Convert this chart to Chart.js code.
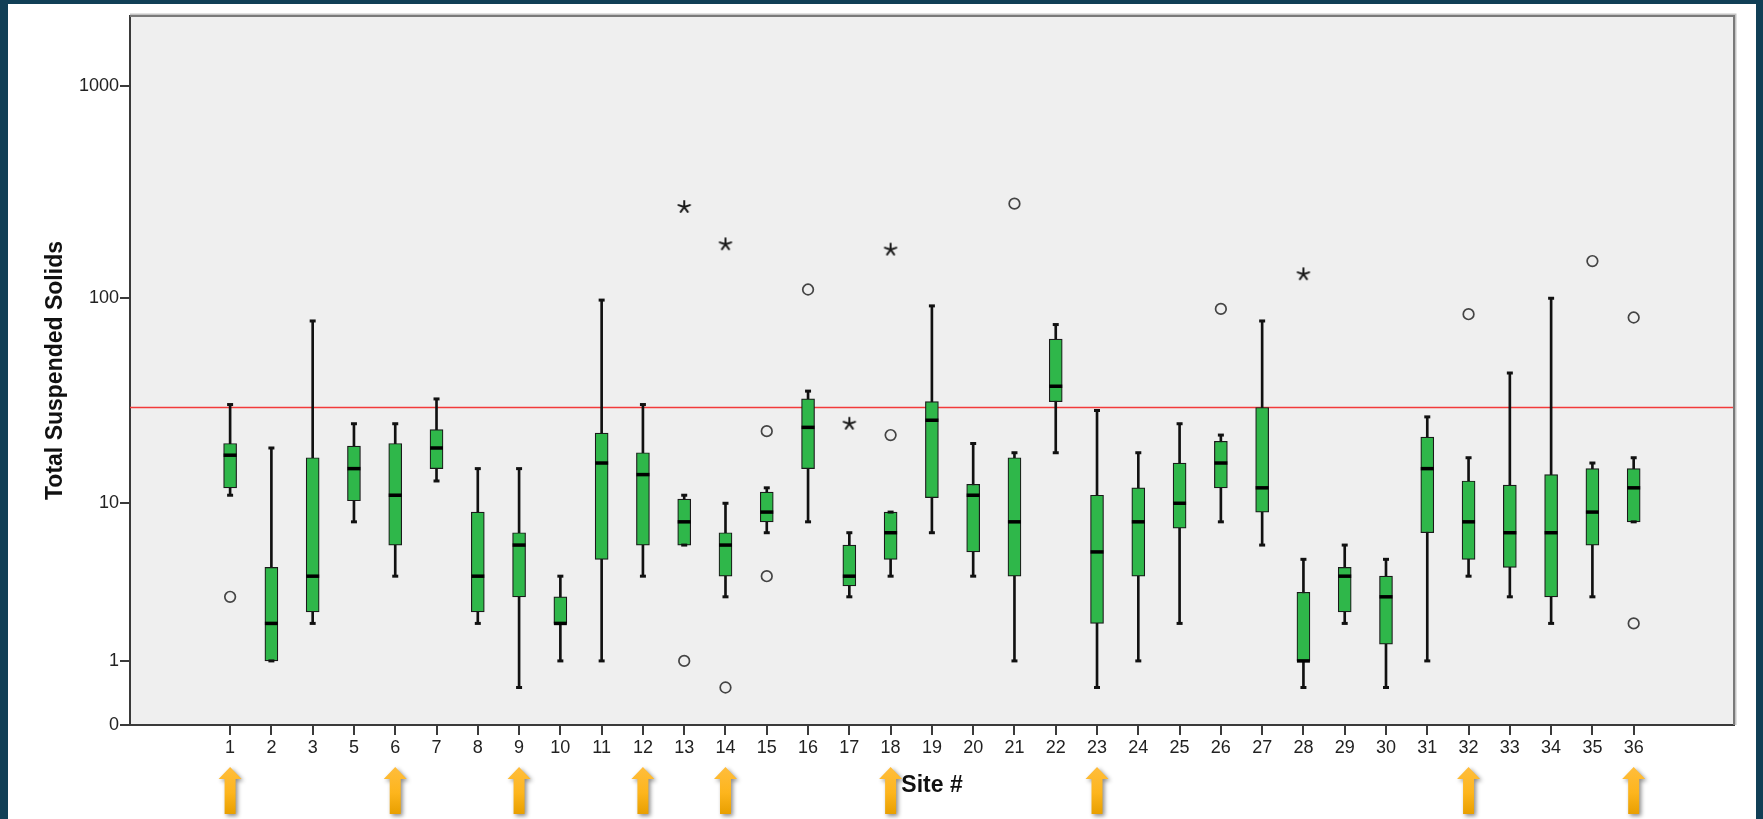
<!DOCTYPE html>
<html>
<head>
<meta charset="utf-8">
<script src="https://cdn.jsdelivr.net/npm/chart.js@4.4.1/dist/chart.umd.min.js"></script>
<style>
  html, body { margin: 0; padding: 0; background: #113f56; overflow: hidden; }
  #wrap { position: absolute; left: 0; top: 0; width: 1763px; height: 819px; }
</style>
</head>
<body>
<div id="wrap"><canvas id="chart" width="1763" height="819"></canvas></div>
<script>
// Sampling sites (site 4 has no record)
const sites = ['1','2','3','5','6','7','8','9','10','11','12','13','14','15','16','17','18',
               '19','20','21','22','23','24','25','26','27','28','29','30','31','32','33','34','35','36'];

// Five-number summary per site (Total Suspended Solids)
const whiskerLow  = [11, 1, 2, 8, 4, 13, 2, 0.5, 1, 1, 4, 6, 3, 7, 8, 3, 4,
                     7, 4, 1, 18, 0.5, 1, 2, 8, 6, 0.5, 2, 0.5, 1, 4, 3, 2, 3, 8];
const quartile1   = [12, 1, 2.4, 10.3, 6, 15, 2.4, 3, 2, 5, 6, 6, 4, 8, 15, 3.5, 5,
                     10.7, 5.5, 4, 32, 2, 4, 7.4, 12, 9, 1, 2.4, 1.4, 7, 5, 4.5, 3, 6, 8];
const medianVals  = [17.5, 2, 4, 15, 11, 19, 4, 6, 2, 16, 14, 8, 6, 9, 24, 4, 7,
                     26, 11, 8, 38, 5.5, 8, 10, 16, 12, 1, 4, 3, 15, 8, 7, 7, 9, 12];
const quartile3   = [20, 4.5, 17, 19.4, 20, 23.4, 9, 7, 3, 22.5, 18, 10.5, 7, 11.4, 33, 6, 9,
                     32, 12.5, 17, 64, 11, 12, 16, 20.5, 30, 3.2, 4.5, 4, 21.5, 13, 12.4, 14, 15, 15];
const whiskerHigh = [31, 19, 78, 25, 25, 33, 15, 15, 4, 98, 31, 11, 10, 12, 36, 7, 9,
                     92, 20, 18, 75, 29, 18, 25, 22, 78, 5, 6, 5, 27, 17, 44, 100, 16, 17];

// Outliers (circles) and extreme values (stars)
const outlierSites  = ['1', '13', '14', '15', '15', '16', '18', '21', '26', '32', '35', '36', '36'];
const outlierValues = [3, 1, 0.5, 23, 4, 110, 22, 280, 89, 84, 150, 81, 2];
const extremeSites  = ['13', '14', '17', '18', '28'];
const extremeValues = [270, 180, 25, 170, 130];

// Axis ticks and reference level
const yTickValues = [0, 1, 10, 100, 1000];
const yTickLabels = ['0', '1', '10', '100', '1000'];
const limitValue = 30;
const arrowSites = ['1', '6', '9', '12', '14', '18', '23', '32', '36'];

// "safe log" transform: keeps zero on the axis
const tf = v => Math.log10(1 + v);
const idx = s => sites.indexOf(s);

const FONT = "'Liberation Sans', Arial, Helvetica, sans-serif";

// five-armed asterisk used for extreme values
function makeStar() {
  const c = document.createElement('canvas');
  c.width = 16; c.height = 16;
  const g = c.getContext('2d');
  g.strokeStyle = '#1a1a1a';
  g.lineWidth = 2;
  g.lineCap = 'round';
  for (let k = 0; k < 5; k++) {
    const a = -Math.PI / 2 + k * 2 * Math.PI / 5;
    g.beginPath();
    g.moveTo(8, 8);
    g.lineTo(8 + Math.cos(a) * 6, 8 + Math.sin(a) * 6);
    g.stroke();
  }
  return c;
}

const framePlugin = {
  id: 'frame',
  beforeDraw(chart) {
    const { ctx, chartArea: a } = chart;
    ctx.save();
    ctx.fillStyle = '#113f56';
    ctx.fillRect(0, 0, chart.width, chart.height);
    ctx.fillStyle = '#ffffff';
    ctx.fillRect(8, 4, 1748, 815);
    ctx.fillStyle = '#efefef';
    ctx.fillRect(a.left, a.top, a.right - a.left, a.bottom - a.top);
    ctx.restore();
  },
  beforeDatasetsDraw(chart) {
    const { ctx, chartArea: a, scales } = chart;
    const y = scales.y.getPixelForValue(tf(limitValue));
    ctx.save();
    ctx.strokeStyle = '#f23a3a';
    ctx.lineWidth = 1.5;
    ctx.beginPath();
    ctx.moveTo(a.left, y);
    ctx.lineTo(a.right, y);
    ctx.stroke();
    ctx.restore();
  },
  afterDraw(chart) {
    const { ctx, chartArea: a, scales } = chart;
    ctx.save();
    // top and right frame with soft shadow
    ctx.strokeStyle = '#c4c4c4';
    ctx.lineWidth = 2;
    ctx.beginPath();
    ctx.moveTo(a.left, a.top - 1.5);
    ctx.lineTo(a.right + 1.5, a.top - 1.5);
    ctx.lineTo(a.right + 1.5, a.bottom);
    ctx.stroke();
    ctx.strokeStyle = '#7a7a7a';
    ctx.lineWidth = 2;
    ctx.beginPath();
    ctx.moveTo(a.left, a.top);
    ctx.lineTo(a.right, a.top);
    ctx.lineTo(a.right, a.bottom);
    ctx.stroke();

    // orange markers below selected sites
    const top = a.bottom + 42;
    const headH = 12, headW = 11.5, shaftW = 5.5, total = 47;
    arrowSites.forEach(s => {
      const x = scales.x.getPixelForValue(idx(s));
      const grad = ctx.createLinearGradient(0, top, 0, top + total);
      grad.addColorStop(0, '#ffbd3c');
      grad.addColorStop(0.55, '#fdb51d');
      grad.addColorStop(1, '#e89f00');
      ctx.save();
      ctx.shadowColor = 'rgba(0,0,0,0.45)';
      ctx.shadowBlur = 4;
      ctx.shadowOffsetX = 2;
      ctx.shadowOffsetY = 2;
      ctx.fillStyle = grad;
      ctx.beginPath();
      ctx.moveTo(x, top);
      ctx.lineTo(x + headW, top + headH);
      ctx.lineTo(x + shaftW, top + headH);
      ctx.lineTo(x + shaftW, top + total);
      ctx.lineTo(x - shaftW, top + total);
      ctx.lineTo(x - shaftW, top + headH);
      ctx.lineTo(x - headW, top + headH);
      ctx.closePath();
      ctx.fill();
      ctx.restore();
    });
    ctx.restore();
  }
};

const boxData = sites.map((s, i) => ({ x: i, y: [tf(quartile1[i]), tf(quartile3[i])] }));
const whiskerData = sites.map((s, i) => ({ x: i, y: [tf(whiskerLow[i]), tf(whiskerHigh[i])] }));
const capData = sites.flatMap((s, i) => [{ x: i, y: tf(whiskerLow[i]) }, { x: i, y: tf(whiskerHigh[i]) }]);
const medianData = sites.map((s, i) => ({ x: i, y: tf(medianVals[i]) }));
const outlierData = outlierSites.map((s, k) => ({ x: idx(s), y: tf(outlierValues[k]) }));
const extremeData = extremeSites.map((s, k) => ({ x: idx(s), y: tf(extremeValues[k]) }));

new Chart(document.getElementById('chart'), {
  type: 'bar',
  data: {
    datasets: [
      { type: 'bar', label: 'whisker', data: whiskerData, backgroundColor: '#111', borderWidth: 0,
        barThickness: 2, grouped: false, order: 6 },
      { type: 'bar', label: 'box', data: boxData, backgroundColor: '#2fb74a', borderColor: '#1a1a1a',
        borderWidth: 1.2, borderSkipped: false, barThickness: 13, grouped: false, order: 5 },
      { type: 'scatter', label: 'caps', data: capData, pointStyle: 'line', pointRadius: 3,
        borderColor: '#111', borderWidth: 3, order: 4 },
      { type: 'scatter', label: 'median', data: medianData, pointStyle: 'line', pointRadius: 6.5,
        borderColor: '#000', borderWidth: 3.5, order: 3 },
      { type: 'scatter', label: 'outliers', data: outlierData, pointStyle: 'circle', pointRadius: 5.3,
        backgroundColor: 'rgba(0,0,0,0)', borderColor: '#444', borderWidth: 1.7, order: 2 },
      { type: 'scatter', label: 'extremes', data: extremeData, pointStyle: makeStar(), order: 1 }
    ]
  },
  options: {
    responsive: false,
    animation: false,
    events: [],
    layout: { padding: { left: 40, top: 16, right: 29, bottom: 0 } },
    plugins: { legend: { display: false }, tooltip: { enabled: false } },
    scales: {
      x: {
        type: 'linear',
        min: -2.425,
        max: 36.43,
        offset: false,
        afterFit: s => { s.height = 94; },
        afterBuildTicks: s => { s.ticks = sites.map((c, i) => ({ value: i })); },
        grid: { display: true, offset: false, drawOnChartArea: false, drawTicks: true, tickLength: 10,
                color: '#3a3a3a', lineWidth: 2 },
        border: { display: true, color: '#3a3a3a', width: 2 },
        ticks: { autoSkip: false, maxRotation: 0, padding: 2, color: '#222',
                 font: { family: FONT, size: 18 },
                 callback: v => sites[v] },
        title: { display: true, text: 'Site #', color: '#111',
                 font: { family: FONT, size: 23, weight: 'bold' },
                 padding: { top: 0, bottom: 20 } }
      },
      y: {
        type: 'linear',
        min: 0,
        max: 3.33,
        afterFit: s => { s.width = 90; },
        afterBuildTicks: s => { s.ticks = yTickValues.map(v => ({ value: tf(v) })); },
        grid: { display: true, offset: false, drawOnChartArea: false, drawTicks: true, tickLength: 10,
                color: '#3a3a3a', lineWidth: 2 },
        border: { display: true, color: '#3a3a3a', width: 2 },
        ticks: { padding: 1, color: '#222', font: { family: FONT, size: 18 },
                 callback: (v, i) => yTickLabels[i] },
        title: { display: true, text: 'Total Suspended Solids', color: '#111',
                 font: { family: FONT, size: 23, weight: 'bold' },
                 padding: { top: 2, bottom: 0 } }
      }
    }
  },
  plugins: [framePlugin]
});
</script>
</body>
</html>
